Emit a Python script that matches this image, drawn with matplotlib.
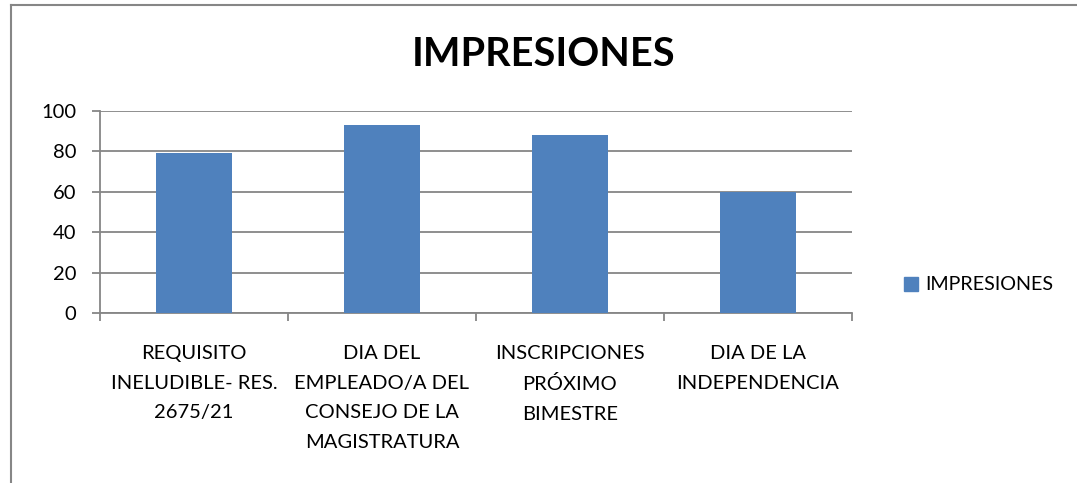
import numpy as np
import matplotlib.pyplot as plt
from matplotlib.lines import Line2D
from matplotlib.patches import Patch

# data
categories = ["REQUISITO\nINELUDIBLE- RES.\n2675/21",
              "DIA DEL\nEMPLEADO/A DEL\nCONSEJO DE LA\nMAGISTRATURA",
              "INSCRIPCIONES\nPRÓXIMO\nBIMESTRE",
              "DIA DE LA\nINDEPENDENCIA"]
impresiones = [79, 93, 88, 60]
series_name = "IMPRESIONES"
y_ticks = [0, 20, 40, 60, 80, 100]

BAR_COLOR = "#4f81bd"
GRID_COLOR = "#868686"
W, H = 1077, 483

plt.rcParams['font.family'] = ['Lato', 'DejaVu Sans']

fig = plt.figure(figsize=(W / 100, H / 100), dpi=100)
ax = fig.add_axes([100 / W, 1 - 313 / H, 752 / W, 202 / H])

x = np.arange(len(categories))
ax.bar(x, impresiones, width=0.40, color=BAR_COLOR, zorder=3)

ax.set_xlim(-0.5, len(categories) - 0.5)
ax.set_ylim(0, 100)
ax.set_yticks(y_ticks)
ax.grid(axis='y', color=GRID_COLOR, linewidth=1.3, zorder=0)

# category boundaries get the tick marks, centers get the labels
ax.set_xticks(np.arange(len(categories) + 1) - 0.5)
ax.set_xticklabels([])
ax.set_xticks(x, minor=True)
ax.set_xticklabels(categories, minor=True, fontsize=14.5, linespacing=1.9)
ax.tick_params(axis='x', which='major', length=6, width=1.3, color=GRID_COLOR, direction='out')
ax.tick_params(axis='x', which='minor', length=0, pad=23)
ax.tick_params(axis='y', length=6, width=1.3, color=GRID_COLOR, labelsize=14.5, pad=11)

for side in ['top', 'right']:
    ax.spines[side].set_visible(False)
for side in ['left', 'bottom']:
    ax.spines[side].set_color(GRID_COLOR)
    ax.spines[side].set_linewidth(1.3)

fig.text(544 / W, 1 - 54 / H, "IMPRESIONES", ha='center', va='center',
         fontsize=28.5, fontweight='bold')

fig.legend(handles=[Patch(color=BAR_COLOR, label=series_name)],
           loc='center left', bbox_to_anchor=(886 / W, 1 - 285 / H),
           frameon=False, fontsize=14.2, handlelength=0.7, handleheight=0.7,
           handletextpad=0.4)

# chart area border (top and left edges)
fig.add_artist(Line2D([11 / W, 11 / W], [0, 1 - 5 / H], color=GRID_COLOR,
                      linewidth=1.5, transform=fig.transFigure))
fig.add_artist(Line2D([11 / W, 1], [1 - 5 / H, 1 - 5 / H], color=GRID_COLOR,
                      linewidth=1.5, transform=fig.transFigure))

fig.savefig("out.png", dpi=100)
